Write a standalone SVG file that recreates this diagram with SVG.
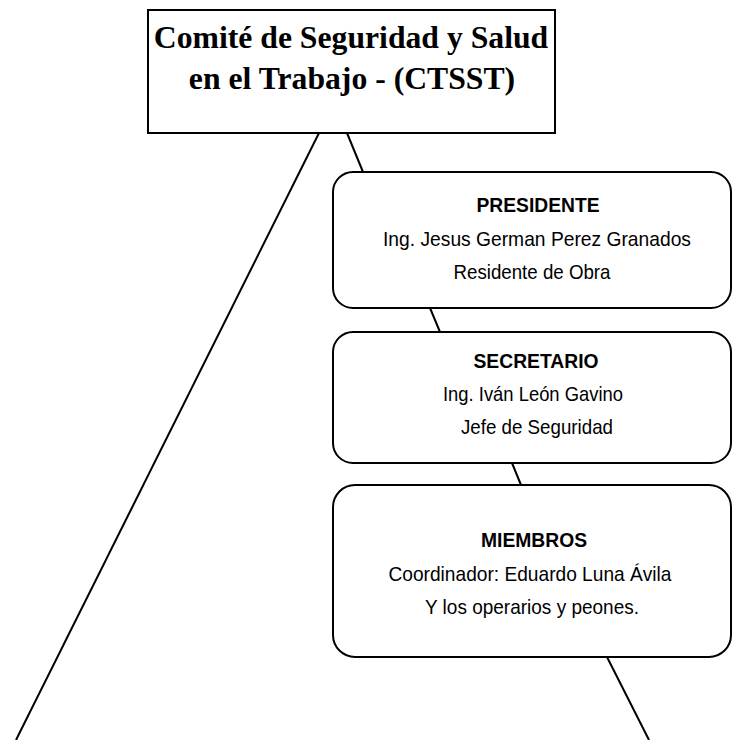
<svg xmlns="http://www.w3.org/2000/svg" width="733" height="740" viewBox="0 0 733 740">
  <style>
    .box { fill: #ffffff; stroke: #000000; stroke-width: 2; }
    .conn { stroke: #000000; stroke-width: 2; fill: none; }
    .title { font-family: "Liberation Serif", "Times New Roman", serif; font-weight: bold; font-size: 31.7px; fill: #000; text-anchor: middle; }
    .head { font-family: "Liberation Sans", Arial, sans-serif; font-weight: bold; font-size: 21px; fill: #000; text-anchor: middle; }
    .txt { font-family: "Liberation Sans", Arial, sans-serif; font-size: 21px; fill: #000; text-anchor: middle; }
  </style>
  <rect width="733" height="740" fill="#ffffff"/>
  <g id="connectors">
    <line class="conn" x1="319" y1="133" x2="16" y2="740"/>
    <line class="conn" x1="347" y1="133" x2="363" y2="172"/>
    <line class="conn" x1="430" y1="308" x2="440" y2="332"/>
    <line class="conn" x1="512" y1="463" x2="521" y2="485"/>
    <line class="conn" x1="607" y1="657" x2="649" y2="740"/>
  </g>
  <g id="ctsst">
    <rect class="box" x="148" y="10" width="407" height="123"/>
    <text class="title" x="351" y="48">Comité de Seguridad y Salud</text>
    <text class="title" x="352" y="89">en el Trabajo - (CTSST)</text>
  </g>
  <g id="presidente">
    <rect class="box" x="333" y="172" width="398" height="136" rx="20" ry="20"/>
    <text class="head" x="538" y="212" textLength="123" lengthAdjust="spacingAndGlyphs">PRESIDENTE</text>
    <text class="txt" x="537" y="246" textLength="308" lengthAdjust="spacingAndGlyphs">Ing. Jesus German Perez Granados</text>
    <text class="txt" x="532" y="279" textLength="157" lengthAdjust="spacingAndGlyphs">Residente de Obra</text>
  </g>
  <g id="secretario">
    <rect class="box" x="333" y="332" width="398" height="131" rx="20" ry="20"/>
    <text class="head" x="536" y="368" textLength="125" lengthAdjust="spacingAndGlyphs">SECRETARIO</text>
    <text class="txt" x="533" y="401" textLength="180" lengthAdjust="spacingAndGlyphs">Ing. Iván León Gavino</text>
    <text class="txt" x="537" y="434" textLength="152" lengthAdjust="spacingAndGlyphs">Jefe de Seguridad</text>
  </g>
  <g id="miembros">
    <rect class="box" x="333" y="485" width="398" height="172" rx="22" ry="22"/>
    <text class="head" x="534" y="547" textLength="106" lengthAdjust="spacingAndGlyphs">MIEMBROS</text>
    <text class="txt" x="530" y="581" textLength="283" lengthAdjust="spacingAndGlyphs">Coordinador: Eduardo Luna Ávila</text>
    <text class="txt" x="532" y="614" textLength="214" lengthAdjust="spacingAndGlyphs">Y los operarios y peones.</text>
  </g>
</svg>
